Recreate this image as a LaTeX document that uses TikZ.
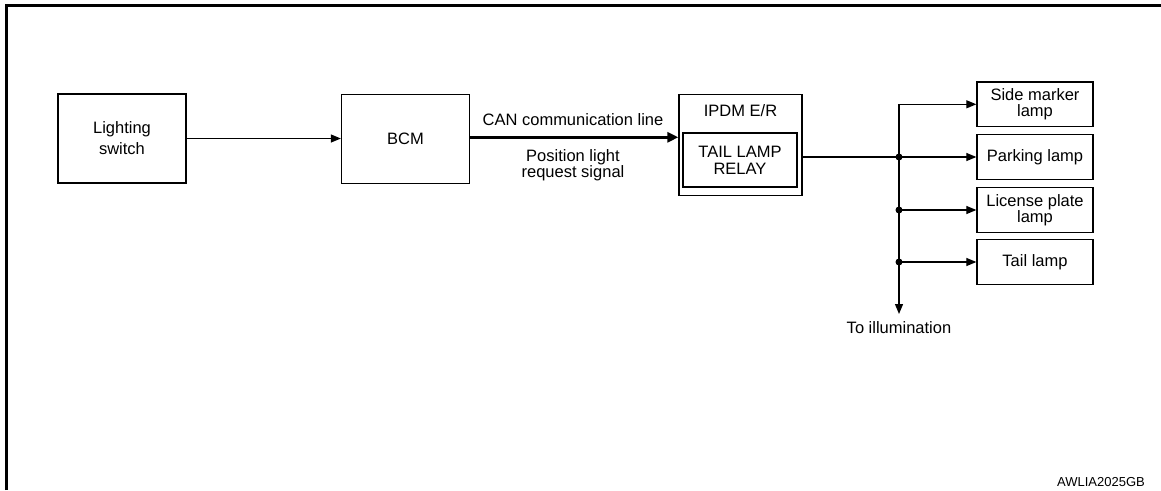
\documentclass[tikz,border=0pt]{standalone}
\usepackage{fontspec}
\setmainfont{Liberation Sans}
\usetikzlibrary{arrows.meta}
\begin{document}
\begin{tikzpicture}[x=1pt,y=-1pt,
  every node/.style={font=\fontsize{16.5}{17}\selectfont, inner sep=0pt, align=center},
  blk/.style={draw, line width=1.3pt, rectangle},
  lampbox/.style={blk, minimum width=116, minimum height=44.5, font=\fontsize{16.5}{16}\selectfont},
  conn/.style={line width=1.2pt, -{Triangle[length=10pt,width=8pt]}},
  wire/.style={line width=1.2pt},
  dot/.style={circle, fill=black, minimum size=7pt, inner sep=0pt}
]
\useasboundingbox (0,0) rectangle (1161,490);
% frame
\draw[line width=3pt] (6.5,490) -- (6.5,5.5) -- (1161,5.5);

% blocks
\node[blk, minimum width=128, minimum height=89, font=\fontsize{16.5}{21}\selectfont] (ls) at (122,138.5) {Lighting\\switch};
\node[blk, minimum width=128, minimum height=89] (bcm) at (405.5,139) {BCM};
\node[blk, minimum width=123, minimum height=100.5] (ipdm) at (740.5,145) {};
\node (ipdmlbl) at (740.5,111) {IPDM E/R};
\node[blk, minimum width=114, minimum height=54] (relay) at (740,160) {TAIL LAMP\\RELAY};

% lamps
\node[lampbox] (side) at (1035,104.3) {Side marker\\lamp};
\node[lampbox] (park) at (1035,157) {Parking lamp};
\node[lampbox] (lic) at (1035,210) {License plate\\lamp};
\node[lampbox] (tail) at (1035,262) {Tail lamp};

% connectors left
\draw[conn] (ls.east) -- (bcm.west |- ls.east);
\draw[line width=3pt, -{Triangle[length=11pt,width=10pt]}] (bcm.east |- 0,137.3) -- (ipdm.west |- 0,137.3);
\node (can) at (573,120) {CAN communication line};
\node[font=\fontsize{16.5}{16.5}\selectfont] (pos) at (573,165) {Position light\\request signal};

% bus
\coordinate (jt) at (899,104.3);
\coordinate (j1) at (899,157);
\coordinate (j2) at (899,210);
\coordinate (j3) at (899,262);
\coordinate (jb) at (899,314);
\draw[wire] (ipdm.east |- j1) -- (j1);
\draw[conn] (jt) -- (jb);
\draw[conn] (jt) -- (side.west);
\draw[conn] (j1) -- (park.west);
\draw[conn] (j2) -- (lic.west);
\draw[conn] (j3) -- (tail.west);
\node[dot] at (j1) {};
\node[dot] at (j2) {};
\node[dot] at (j3) {};
\node (illum) at (899,328) {To illumination};

\node[font=\fontsize{13}{13}\selectfont, anchor=east] (code) at (1145,482) {AWLIA2025GB};
\end{tikzpicture}
\end{document}
